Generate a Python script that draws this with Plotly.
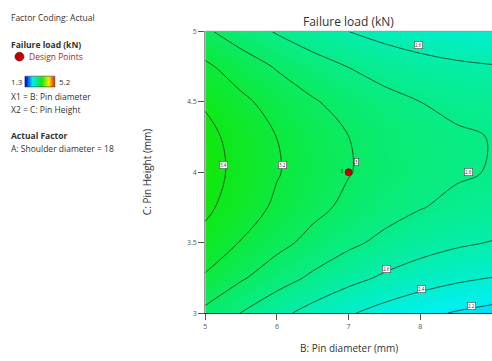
import plotly.graph_objects as go

# ---------------- data ----------------
pin_diameter = [5.0, 5.5, 6.0, 6.5, 7.0, 7.5, 8.0, 8.5, 9.0]          # B (x)
pin_height = [3.0, 3.25, 3.5, 3.75, 4.0, 4.25, 4.5, 4.75, 5.0]        # C (y)
# failure load (kN); rows = pin_height, columns = pin_diameter
failure_load = [
    [2.952, 2.795, 2.654, 2.529, 2.419, 2.326, 2.248, 2.185, 2.138],
    [3.176, 3.023, 2.887, 2.766, 2.661, 2.571, 2.497, 2.439, 2.397],
    [3.339, 3.190, 3.058, 2.941, 2.839, 2.754, 2.684, 2.630, 2.592],
    [3.440, 3.296, 3.166, 3.053, 2.956, 2.874, 2.808, 2.758, 2.724],
    [3.481, 3.339, 3.213, 3.104, 3.009, 2.931, 2.869, 2.822, 2.791],
    [3.460, 3.321, 3.199, 3.092, 3.001, 2.925, 2.866, 2.823, 2.795],
    [3.378, 3.242, 3.122, 3.018, 2.929, 2.857, 2.800, 2.760, 2.735],
    [3.235, 3.101, 2.983, 2.882, 2.796, 2.726, 2.672, 2.634, 2.611],
    [3.030, 2.899, 2.783, 2.683, 2.599, 2.532, 2.480, 2.444, 2.424],
]
contour_start, contour_end, contour_step = 2.2, 3.4, 0.2
design_point_b = [7.0]
design_point_c = [4.0]
design_point_count = ["3"]
color_min, color_max = 1.3, 5.2
x_ticks = [5, 6, 7, 8, 9]
y_ticks = [3, 3.5, 4, 4.5, 5]

# contour label texts and where they sit on the lines
label_texts = ["3.4", "3.2", "3", "2.8", "2.6", "2.6", "2.4", "2.2"]
label_pos = [(5.26, 4.05), (6.08, 4.05), (7.11, 4.07), (8.67, 4.0),
             (7.97, 4.90), (7.53, 3.31), (8.01, 3.17), (8.72, 3.05)]

# ---------------- styling ----------------
W, H = 492, 361
colorscale = [[0.0, "#0000ff"], [0.24, "#00f0f0"], [0.55, "#10e810"],
              [0.78, "#f0f000"], [1.0, "#ff0000"]]
FONT = "Open Sans, Noto Sans, sans-serif"

def px_x(p):
    return p / W

def px_y(p):
    return (H - p) / H

fig = go.Figure()

fig.add_trace(go.Contour(
    x=pin_diameter, y=pin_height, z=failure_load,
    colorscale=colorscale, zmin=color_min, zmax=color_max,
    contours=dict(start=contour_start, end=contour_end, size=contour_step,
                  coloring="heatmap", showlabels=False),
    line=dict(color="rgba(10,30,10,0.85)", width=0.8, smoothing=1.0),
    showscale=False, hoverinfo="skip",
))

fig.add_trace(go.Scatter(
    x=design_point_b, y=design_point_c, mode="markers+text",
    text=design_point_count, textposition="middle left",
    textfont=dict(size=5, color="#333", family=FONT),
    marker=dict(size=7, color="#c00000", line=dict(color="#700000", width=0.6)),
    showlegend=False, hoverinfo="skip",
))

# small colour-range swatch in the side legend
fig.add_trace(go.Heatmap(
    x=[0, 1], y=[0], z=[[color_min, color_max]],
    colorscale=colorscale, zmin=color_min, zmax=color_max,
    zsmooth="best", showscale=False, hoverinfo="skip",
    xaxis="x2", yaxis="y2",
))

axis_font = dict(size=7, color="#555", family=FONT)
fig.update_layout(
    width=W, height=H,
    margin=dict(l=0, r=0, t=0, b=0),
    paper_bgcolor="white", plot_bgcolor="white",
    showlegend=False,
    font=dict(family=FONT),
    xaxis=dict(domain=[px_x(204), 1.0], range=[5, 9], tickvals=x_ticks,
               ticks="outside", ticklen=6, tickcolor="#555", tickwidth=1,
               tickfont=axis_font, showgrid=False, zeroline=False,
               showline=True, linecolor="#333", linewidth=1, mirror=False),
    yaxis=dict(domain=[px_y(316), px_y(27)], range=[3, 5], tickvals=y_ticks,
               ticks="outside", ticklen=6, tickcolor="#555", tickwidth=1,
               tickfont=axis_font, showgrid=False, zeroline=False,
               showline=True, linecolor="#999", linewidth=1, mirror=False),
    xaxis2=dict(domain=[px_x(23), px_x(53)], range=[0, 1], visible=False,
                anchor="y2", fixedrange=True),
    yaxis2=dict(domain=[px_y(84), px_y(73)], range=[-0.5, 0.5], visible=False,
                anchor="x2", fixedrange=True),
)

shapes = [
    # top border of the plot
    dict(type="line", xref="paper", yref="paper", x0=px_x(204), x1=1.0,
         y0=px_y(27), y1=px_y(27), line=dict(color="#7a9a9a", width=1)),
    # swatch outline
    dict(type="rect", xref="paper", yref="paper", x0=px_x(23), x1=px_x(53),
         y0=px_y(84), y1=px_y(73), line=dict(color="#333", width=0.6)),
    # design point glyph in side legend
    dict(type="circle", xref="paper", yref="paper",
         x0=px_x(13), x1=px_x(22), y0=px_y(57.5), y1=px_y(48.5),
         fillcolor="#c00000", line=dict(color="#800000", width=0.6)),
]

ann = []
def txt(x, y, s, size=8.5, color="#333", bold=False, anchor="left", **kw):
    ann.append(dict(x=px_x(x), y=px_y(y), xref="paper", yref="paper",
                    text=f"<b>{s}</b>" if bold else s, showarrow=False,
                    xanchor=anchor, yanchor="middle",
                    font=dict(size=size, color=color, family=FONT), **kw))

txt(7, 13, "Factor Coding: Actual")
txt(7, 40, "Failure load (kN)", bold=True)
txt(25, 53, "Design Points", color="#b02020")
txt(7, 78, "1.3", size=8)
txt(55, 78, "5.2", size=8)
txt(7, 94, "X1 = B: Pin diameter")
txt(7, 107, "X2 = C: Pin Height")
txt(7, 134, "Actual Factor", bold=True)
txt(7, 147, "A: Shoulder diameter = 18")
txt(348, 17, "Failure load (kN)", size=12, color="#333", anchor="center")
txt(348, 352, "B: Pin diameter (mm)", size=10, color="#333", anchor="center")
txt(145, 171, "C: Pin Height (mm)", size=10, color="#333", anchor="center",
    textangle=-90)

for t, (bx, cy) in zip(label_texts, label_pos):
    ann.append(dict(x=bx, y=cy, xref="x", yref="y", text=t, showarrow=False,
                    font=dict(size=4.5, color="#333", family=FONT),
                    bgcolor="white", bordercolor="#444", borderwidth=0.6,
                    borderpad=0.5))

fig.update_layout(shapes=shapes, annotations=ann)
fig.write_html("out.html")
